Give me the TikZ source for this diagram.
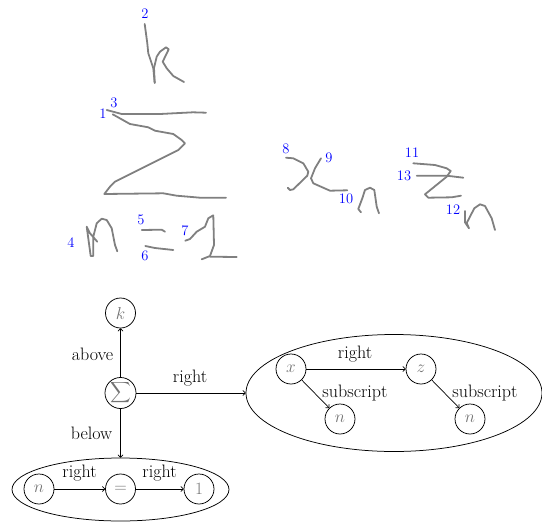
\documentclass[tikz,border=0pt]{standalone}
\usepackage{amsmath}
\usetikzlibrary{shapes.geometric,arrows.meta}
\tikzset{
  ink/.style={draw=black!50,line width=1.8pt,line join=round,line cap=round},
  idx/.style={text=blue,font=\fontsize{14.5}{14.5}\selectfont,inner sep=0pt},
  sym/.style={circle,draw,line width=0.75pt,minimum size=30pt,inner sep=0pt,text=black!55,font=\fontsize{18}{18}\selectfont},
  group/.style={ellipse,draw,line width=0.75pt,inner sep=0pt},
  link/.style={draw,line width=0.7pt,-{To[length=3pt,width=5.5pt]}},
  lab/.style={font=\fontsize{18}{18}\selectfont,inner sep=0pt}
}
\begin{document}
\begin{tikzpicture}[x=1pt,y=-1pt]
\useasboundingbox (0,0) rectangle (542,523);
% handwritten strokes
\draw[ink] (144.7,24) -- (147.3,43.3) -- (148.3,53.3) -- (153.3,68.3) -- (154.7,82.7);
\draw[ink] (154.7,83) -- (154,68) -- (156.7,56.7) -- (160,51.7) -- (166,47.3) -- (168.7,49.3) -- (162.7,61.7) -- (166.7,68.3) -- (173.3,76) -- (184,82);
\draw[ink] (106.7,110) -- (121.7,114) -- (160,114) -- (193,112.3) -- (206,112.7);
\draw[ink] (112.7,114.3) -- (130,124) -- (148.3,127.3) -- (155,130.7) -- (173.3,134) -- (181.7,140) -- (185,143.3) -- (178.3,150) -- (115,181.7) -- (110,186.7) -- (104.3,194) -- (163.3,193.3) -- (176.7,195.7) -- (200,197.7) -- (226,197.7);
\draw[ink] (97.3,241.7) -- (90,233.3) -- (86.7,226.7) -- (90.7,256) -- (93.3,256) -- (93.3,236.7) -- (96.7,223.3) -- (101.7,218.7) -- (106.7,220) -- (111.7,228.3) -- (115,245) -- (117.3,251.3);
\draw[ink] (141.7,230) -- (161.7,229.7) -- (165,231.7);
\draw[ink] (145.3,246) -- (155,248) -- (173.3,250);
\draw[ink] (185.3,240.7) -- (190,239) -- (196.7,231.7) -- (205,226.7) -- (208.3,218.3) -- (213.3,215.3) -- (214,245) -- (210,256) -- (201.7,259.3);
\draw[ink] (210,256.7) -- (236.7,257);
\draw[ink] (286,157.7) -- (293.3,158.3) -- (303.3,163.3) -- (308.3,171.7) -- (307.3,175.7) -- (293.3,189.3) -- (290,190) -- (287.7,187.7);
\draw[ink] (321,158.3) -- (315,168.3) -- (311,178.3) -- (313.3,183.3) -- (330,190.7) -- (347.3,190.3);
\draw[ink] (361,212.3) -- (358.3,209) -- (362.3,198.3) -- (365,190) -- (370,187.7) -- (374.3,190) -- (376.7,206.7) -- (379,213.3);
\draw[ink] (413.3,163.3) -- (435,165) -- (446.7,168.3) -- (450.7,171) -- (446.7,176.7) -- (425,194.3) -- (428.3,197.7) -- (451.7,197.3) -- (461,195.7);
\draw[ink] (416.7,175.7) -- (446.7,175.7) -- (463.3,177.7);
\draw[ink] (465,211) -- (465,222.3) -- (469,228.3) -- (466.7,223) -- (474.3,208.3) -- (480,204.3) -- (485,206) -- (491.7,218.3) -- (495,230);
% stroke indices
\node[idx] (i1) at (103,114) {1};
\node[idx] (i2) at (145,14) {2};
\node[idx] (i3) at (114,103) {3};
\node[idx] (i4) at (71,243) {4};
\node[idx] (i5) at (141,220) {5};
\node[idx] (i6) at (145,256) {6};
\node[idx] (i7) at (185,231) {7};
\node[idx] (i8) at (286,149) {8};
\node[idx] (i9) at (329,158) {9};
\node[idx] (i10) at (346,199) {10};
\node[idx] (i11) at (412,153) {11};
\node[idx] (i12) at (453,210) {12};
\node[idx] (i13) at (404,176) {13};
% groups
\node[group,minimum width=217pt,minimum height=63pt] (g1) at (120.5,489.5) {};
\node[group,minimum width=296pt,minimum height=117pt] (g2) at (394,393) {};
% symbols
\node[sym] (k) at (120.5,313) {$k$};
\node[sym,font=\fontsize{14}{14}\selectfont] (sum) at (120.5,393) {$\displaystyle\sum$};
\node[sym] (n1) at (39,489) {$n$};
\node[sym] (eq) at (120.5,489) {$=$};
\node[sym] (one) at (199,489) {$1$};
\node[sym] (x) at (291,369) {$x$};
\node[sym] (z) at (421,369) {$z$};
\node[sym] (n2) at (340,419) {$n$};
\node[sym] (n3) at (470,419) {$n$};
% connectors
\draw[link] (sum) -- (k);
\draw[link] (sum) -- (g1);
\draw[link] (sum) -- (g2);
\draw[link] (n1) -- (eq);
\draw[link] (eq) -- (one);
\draw[link] (x) -- (z);
\draw[link] (x) -- (n2);
\draw[link] (z) -- (n3);
% connector labels
\node[lab] (l1) at (92.5,354) {above};
\node[lab] (l2) at (91.5,433) {below};
\node[lab] (l3) at (190,378) {right};
\node[lab] (l4) at (79.5,473) {right};
\node[lab] (l5) at (159.5,473) {right};
\node[lab] (l6) at (355,354) {right};
\node[lab] (l7) at (355,393) {subscript};
\node[lab] (l8) at (485,393) {subscript};
\end{tikzpicture}
\end{document}
